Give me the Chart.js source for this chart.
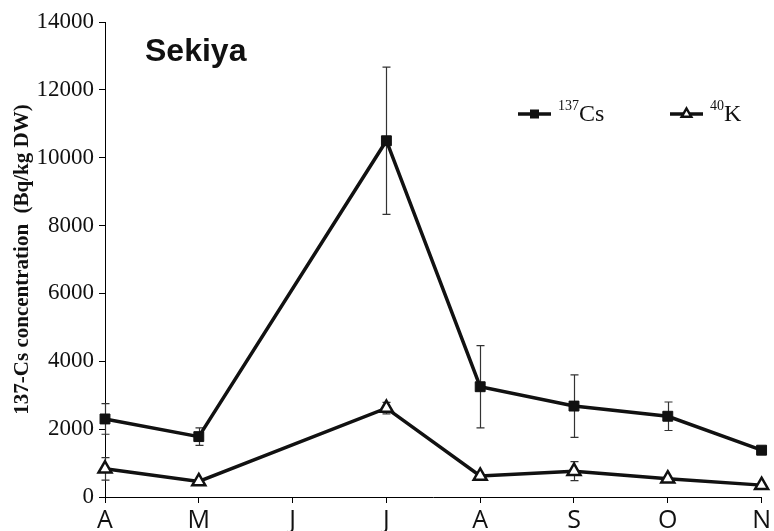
<!DOCTYPE html>
<html>
<head>
<meta charset="utf-8">
<script src="https://cdn.jsdelivr.net/npm/chart.js@4.4.0/dist/chart.umd.min.js"></script>
<style>
  html, body { margin: 0; padding: 0; background: #fff; }
  #wrap { width: 774px; height: 531px; position: relative; }
</style>
</head>
<body>
<div id="wrap"><canvas id="c"></canvas></div>
<script>
// Monthly sampling, April to November
const months = ['A', 'M', 'J', 'J', 'A', 'S', 'O', 'N'];

// 137Cs concentration (Bq/kg DW) and standard deviation
const cs137 = [2300, 1780, null, 10500, 3250, 2680, 2380, 1380];
const cs137Err = [450, 260, null, 2170, 1210, 920, 420, null];

// 40K concentration (Bq/kg DW) and standard deviation
const k40 = [830, 460, null, 2620, 620, 760, 540, 350];
const k40Err = [330, null, null, 170, null, 280, null, null];

const yMin = 0, yMax = 14000, yStep = 2000;

const ink = '#111';
const serif = '"Liberation Serif", "Times New Roman", serif';

// Vertical error bars with caps, drawn beneath the markers
const errorBars = {
  id: 'errorBars',
  beforeDatasetsDraw(chart) {
    const { ctx, scales: { y } } = chart;
    ctx.save();
    ctx.strokeStyle = '#333';
    ctx.lineWidth = 1.2;
    chart.data.datasets.forEach((ds, i) => {
      const meta = chart.getDatasetMeta(i);
      (ds.errors || []).forEach((e, j) => {
        const v = ds.data[j];
        if (v == null || e == null) return;
        const px = Math.round(meta.data[j].x) + 0.5;
        const top = y.getPixelForValue(v + e);
        const bot = y.getPixelForValue(v - e);
        ctx.beginPath();
        ctx.moveTo(px, top); ctx.lineTo(px, bot);
        ctx.moveTo(px - 4, top); ctx.lineTo(px + 4, top);
        ctx.moveTo(px - 4, bot); ctx.lineTo(px + 4, bot);
        ctx.stroke();
      });
    });
    ctx.restore();
  }
};

// Site name and legend with superscript mass numbers
const annotations = {
  id: 'annotations',
  afterDraw(chart) {
    const { ctx } = chart;
    ctx.save();
    ctx.fillStyle = ink;
    ctx.textBaseline = 'alphabetic';
    ctx.textAlign = 'left';
    ctx.font = 'bold 32px "Liberation Sans", Arial, sans-serif';
    ctx.fillText('Sekiya', 145, 61);

    const entries = [
      { ds: 0, x0: 518, sup: '137', main: 'Cs', tx: 558 },
      { ds: 1, x0: 670, sup: '40', main: 'K', tx: 710 }
    ];
    const ly = 114;
    entries.forEach(en => {
      const ds = chart.data.datasets[en.ds];
      ctx.strokeStyle = ink;
      ctx.lineWidth = 3.5;
      ctx.beginPath();
      ctx.moveTo(en.x0, ly); ctx.lineTo(en.x0 + 33, ly);
      ctx.stroke();
      const cx = en.x0 + 16.5;
      ctx.lineWidth = 2.5;
      if (ds.pointStyle === 'rect') {
        ctx.fillStyle = ink;
        ctx.fillRect(cx - 4.5, ly - 4.5, 9, 9);
      } else {
        const r = 5.5;
        ctx.beginPath();
        ctx.moveTo(cx, ly - r);
        ctx.lineTo(cx + r * 0.866, ly + r * 0.5);
        ctx.lineTo(cx - r * 0.866, ly + r * 0.5);
        ctx.closePath();
        ctx.fillStyle = '#fff';
        ctx.fill();
        ctx.stroke();
      }
      ctx.fillStyle = ink;
      ctx.font = '14px ' + serif;
      ctx.fillText(en.sup, en.tx, 110);
      const w = ctx.measureText(en.sup).width;
      ctx.font = '24px ' + serif;
      ctx.fillText(en.main, en.tx + w, 121);
    });
    ctx.restore();
  }
};

const axisGrid = {
  drawOnChartArea: false,
  drawTicks: true,
  tickLength: 6,
  color: '#000',
  lineWidth: 1
};

new Chart(document.getElementById('c'), {
  type: 'line',
  data: {
    labels: months,
    datasets: [
      {
        label: '137Cs',
        data: cs137,
        errors: cs137Err,
        borderColor: ink,
        borderWidth: 3.5,
        pointStyle: 'rect',
        pointRadius: 7,
        pointBackgroundColor: ink,
        pointBorderColor: ink,
        pointBorderWidth: 1,
        spanGaps: true,
        tension: 0
      },
      {
        label: '40K',
        data: k40,
        errors: k40Err,
        borderColor: ink,
        borderWidth: 3.5,
        pointStyle: 'triangle',
        pointRadius: 7.5,
        pointBackgroundColor: '#fff',
        pointBorderColor: ink,
        pointBorderWidth: 2.5,
        spanGaps: true,
        tension: 0
      }
    ]
  },
  options: {
    responsive: true,
    maintainAspectRatio: false,
    animation: false,
    events: [],
    layout: { padding: { top: 22, right: 11, left: 0, bottom: 0 } },
    plugins: {
      legend: { display: false },
      tooltip: { enabled: false }
    },
    scales: {
      x: {
        type: 'category',
        offset: false,
        grid: axisGrid,
        border: { display: true, color: '#000', width: 1 },
        ticks: {
          color: ink,
          padding: 3,
          maxRotation: 0,
          autoSkip: false,
          font: { family: '"Open Sans", "Noto Sans", sans-serif', size: 25 }
        },
        afterFit(s) { s.height = 34; }
      },
      y: {
        min: yMin,
        max: yMax,
        grid: axisGrid,
        border: { display: true, color: '#000', width: 1 },
        ticks: {
          stepSize: yStep,
          color: ink,
          padding: 5,
          font: { family: serif, size: 23 },
          callback: v => String(v)
        },
        title: {
          display: true,
          text: '137-Cs concentration  (Bq/kg DW)',
          color: ink,
          padding: { top: 10, bottom: 0 },
          font: { family: serif, size: 21, weight: 'bold', lineHeight: 1.2 }
        },
        afterFit(s) { s.width = 105; }
      }
    }
  },
  plugins: [errorBars, annotations]
});
</script>
</body>
</html>
